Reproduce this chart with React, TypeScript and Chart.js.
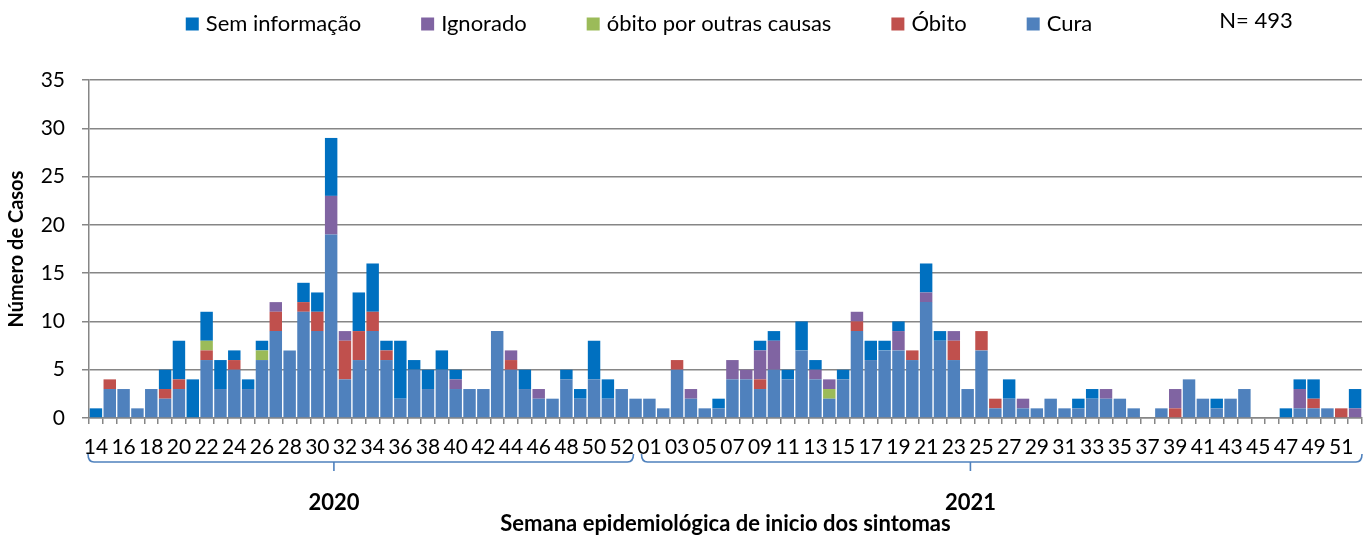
import React, { useEffect, useRef } from 'react';
import { Chart, registerables } from 'chart.js';

Chart.register(...registerables);

// Epidemiological weeks (category labels)
const weeks2020 = [
  '14', '15', '16', '17', '18', '19', '20', '21', '22', '23',
  '24', '25', '26', '27', '28', '29', '30', '31', '32', '33',
  '34', '35', '36', '37', '38', '39', '40', '41', '42', '43',
  '44', '45', '46', '47', '48', '49', '50', '51', '52', '53',
];
const weeks2021 = [
  '01', '02', '03', '04', '05', '06', '07', '08', '09', '10',
  '11', '12', '13', '14', '15', '16', '17', '18', '19', '20',
  '21', '22', '23', '24', '25', '26', '27', '28', '29', '30',
  '31', '32', '33', '34', '35', '36', '37', '38', '39', '40',
  '41', '42', '43', '44', '45', '46', '47', '48', '49', '50',
  '51', '52',
];
const yearLabels = ['2020', '2021'];
const categories = [...weeks2020, ...weeks2021];

// Series values (stack order bottom -> top)
const cura = [
  0, 3, 3, 1, 3, 2, 3, 0, 6, 3,
  5, 3, 6, 9, 7, 11, 9, 19, 4, 6,
  9, 6, 2, 5, 3, 5, 3, 3, 3, 9,
  5, 3, 2, 2, 4, 2, 4, 2, 3, 2,
  2, 1, 5, 2, 1, 1, 4, 4, 3, 5,
  4, 7, 4, 2, 4, 9, 6, 7, 7, 6,
  12, 8, 6, 3, 7, 1, 2, 1, 1, 2,
  1, 1, 2, 2, 2, 1, 0, 1, 0, 4,
  2, 1, 2, 3, 0, 0, 0, 1, 1, 1,
  0, 0,
];
const obito = [
  0, 1, 0, 0, 0, 1, 1, 0, 1, 0,
  1, 0, 0, 2, 0, 1, 2, 0, 4, 3,
  2, 1, 0, 0, 0, 0, 0, 0, 0, 0,
  1, 0, 0, 0, 0, 0, 0, 0, 0, 0,
  0, 0, 1, 0, 0, 0, 0, 0, 1, 0,
  0, 0, 0, 0, 0, 1, 0, 0, 0, 1,
  0, 0, 2, 0, 2, 1, 0, 0, 0, 0,
  0, 0, 0, 0, 0, 0, 0, 0, 1, 0,
  0, 0, 0, 0, 0, 0, 0, 0, 1, 0,
  1, 0,
];
const obitoOutrasCausas = [
  0, 0, 0, 0, 0, 0, 0, 0, 1, 0,
  0, 0, 1, 0, 0, 0, 0, 0, 0, 0,
  0, 0, 0, 0, 0, 0, 0, 0, 0, 0,
  0, 0, 0, 0, 0, 0, 0, 0, 0, 0,
  0, 0, 0, 0, 0, 0, 0, 0, 0, 0,
  0, 0, 0, 1, 0, 0, 0, 0, 0, 0,
  0, 0, 0, 0, 0, 0, 0, 0, 0, 0,
  0, 0, 0, 0, 0, 0, 0, 0, 0, 0,
  0, 0, 0, 0, 0, 0, 0, 0, 0, 0,
  0, 0,
];
const ignorado = [
  0, 0, 0, 0, 0, 0, 0, 0, 0, 0,
  0, 0, 0, 1, 0, 0, 0, 4, 1, 0,
  0, 0, 0, 0, 0, 0, 1, 0, 0, 0,
  1, 0, 1, 0, 0, 0, 0, 0, 0, 0,
  0, 0, 0, 1, 0, 0, 2, 1, 3, 3,
  0, 0, 1, 1, 0, 1, 0, 0, 2, 0,
  1, 0, 1, 0, 0, 0, 0, 1, 0, 0,
  0, 0, 0, 1, 0, 0, 0, 0, 2, 0,
  0, 0, 0, 0, 0, 0, 0, 2, 0, 0,
  0, 1,
];
const semInformacao = [
  1, 0, 0, 0, 0, 2, 4, 4, 3, 3,
  1, 1, 1, 0, 0, 2, 2, 6, 0, 4,
  5, 1, 6, 1, 2, 2, 1, 0, 0, 0,
  0, 2, 0, 0, 1, 1, 4, 2, 0, 0,
  0, 0, 0, 0, 0, 1, 0, 0, 1, 1,
  1, 3, 1, 0, 1, 0, 2, 1, 1, 0,
  3, 1, 0, 0, 0, 0, 2, 0, 0, 0,
  0, 1, 1, 0, 0, 0, 0, 0, 0, 0,
  0, 1, 0, 0, 0, 0, 1, 1, 2, 0,
  0, 2,
];
const totalLabel = 'N= 493';

const FONT = 'Lato, "Open Sans", "DejaVu Sans", sans-serif';
const GRID = '#868686';

export default function App() {
  const ref = useRef<HTMLCanvasElement>(null);

  useEffect(() => {
    const canvas = ref.current;
    if (!canvas) return;

    const yearGroupPlugin = {
      id: 'yearGroups',
      afterDraw(chart: any) {
        const { ctx } = chart;
        const x = chart.scales.x;
        const n = categories.length;
        const w = (x.right - x.left) / n;
        const counts = [weeks2020.length, weeks2021.length];
        const yLine = 462;
        let start = 0;
        ctx.save();
        counts.forEach((count, gi) => {
          const left = x.left + start * w - 1;
          const right = x.left + (start + count) * w - (gi === counts.length - 1 ? 0 : 9);
          const cx = x.left + (start + count / 2) * w - 2.3 * w;
          ctx.strokeStyle = '#4F81BD';
          ctx.lineWidth = 1.6;
          ctx.beginPath();
          ctx.moveTo(left, yLine - 8);
          ctx.quadraticCurveTo(left, yLine, left + 6, yLine);
          ctx.lineTo(right - 6, yLine);
          ctx.quadraticCurveTo(right, yLine, right, yLine - 8);
          ctx.moveTo(cx, yLine);
          ctx.lineTo(cx, yLine + 9);
          ctx.stroke();
          ctx.fillStyle = '#000';
          ctx.font = `bold 22px ${FONT}`;
          ctx.textAlign = 'center';
          ctx.textBaseline = 'middle';
          ctx.fillText(yearLabels[gi], cx, 503);
          start += count;
        });
        ctx.restore();
      },
    };

    const legendPlugin = {
      id: 'customLegend',
      afterDraw(chart: any) {
        const { ctx } = chart;
        const items = [...chart.data.datasets].reverse();
        ctx.save();
        ctx.font = `22px ${FONT}`;
        const box = 13;
        const gap = 7;
        const spacing = 60;
        const widths = items.map((d: any) => box + gap + ctx.measureText(d.label).width);
        const total = widths.reduce((a: number, b: number) => a + b, 0) + spacing * (items.length - 1);
        let xPos = 639 - total / 2;
        const yMid = 24;
        ctx.textBaseline = 'middle';
        ctx.textAlign = 'left';
        items.forEach((d: any, i: number) => {
          ctx.fillStyle = d.backgroundColor;
          ctx.fillRect(xPos, yMid - box / 2, box, box);
          ctx.fillStyle = '#000';
          ctx.fillText(d.label, xPos + box + gap, yMid);
          xPos += widths[i] + spacing;
        });
        ctx.textAlign = 'center';
        ctx.fillText(totalLabel, 1256, 21);
        ctx.restore();
      },
    };

    const chart = new Chart(canvas, {
      type: 'bar',
      data: {
        labels: categories,
        datasets: [
          { label: 'Cura', data: cura, backgroundColor: '#4F81BD' },
          { label: 'Óbito', data: obito, backgroundColor: '#C0504D' },
          { label: 'óbito por outras causas', data: obitoOutrasCausas, backgroundColor: '#9BBB59' },
          { label: 'Ignorado', data: ignorado, backgroundColor: '#8064A2' },
          { label: 'Sem informação', data: semInformacao, backgroundColor: '#0070C0' },
        ],
      },
      options: {
        animation: false,
        responsive: false,
        devicePixelRatio: 1,
        layout: { padding: { top: 80, right: 9, left: 0, bottom: 0 } },
        datasets: {
          bar: { categoryPercentage: 1, barPercentage: 0.9, borderWidth: 0 },
        },
        plugins: {
          legend: { display: false },
          tooltip: { enabled: false },
        },
        scales: {
          x: {
            stacked: true,
            grid: {
              display: true,
              drawOnChartArea: false,
              drawTicks: true,
              tickLength: 6,
              color: GRID,
              lineWidth: 1.5,
              offset: true,
            },
            border: { display: true, color: GRID, width: 1.5 },
            ticks: {
              autoSkip: false,
              maxRotation: 0,
              minRotation: 0,
              padding: 11,
              color: '#000',
              font: { family: FONT, size: 21 },
              callback: (_v: any, i: number) => (i % 2 === 0 ? categories[i] : ''),
            },
            title: {
              display: true,
              text: 'Semana epidemiológica de inicio dos sintomas',
              color: '#000',
              font: { family: FONT, size: 22, weight: 'bold' },
              padding: { top: 0, bottom: 0 },
            },
            afterFit: (s: any) => {
              s.height = 119;
            },
          },
          y: {
            stacked: true,
            min: 0,
            max: 35,
            ticks: {
              stepSize: 5,
              padding: 17,
              color: '#000',
              font: { family: FONT, size: 21 },
            },
            grid: { color: GRID, lineWidth: 1.5, tickLength: 7 },
            border: { display: true, color: GRID, width: 1.5 },
            title: {
              display: true,
              text: 'Número de Casos',
              color: '#000',
              font: { family: FONT, size: 20, weight: 'bold' },
              padding: { top: 5, bottom: 0 },
            },
            afterFit: (s: any) => {
              s.width = 89;
            },
          },
        },
      },
      plugins: [yearGroupPlugin, legendPlugin],
    } as any);

    return () => chart.destroy();
  }, []);

  return (
    <div style={{ position: 'absolute', left: 0, top: 0, width: 1371, height: 537, background: '#fff' }}>
      <canvas ref={ref} width={1371} height={537} style={{ display: 'block' }} />
    </div>
  );
}
